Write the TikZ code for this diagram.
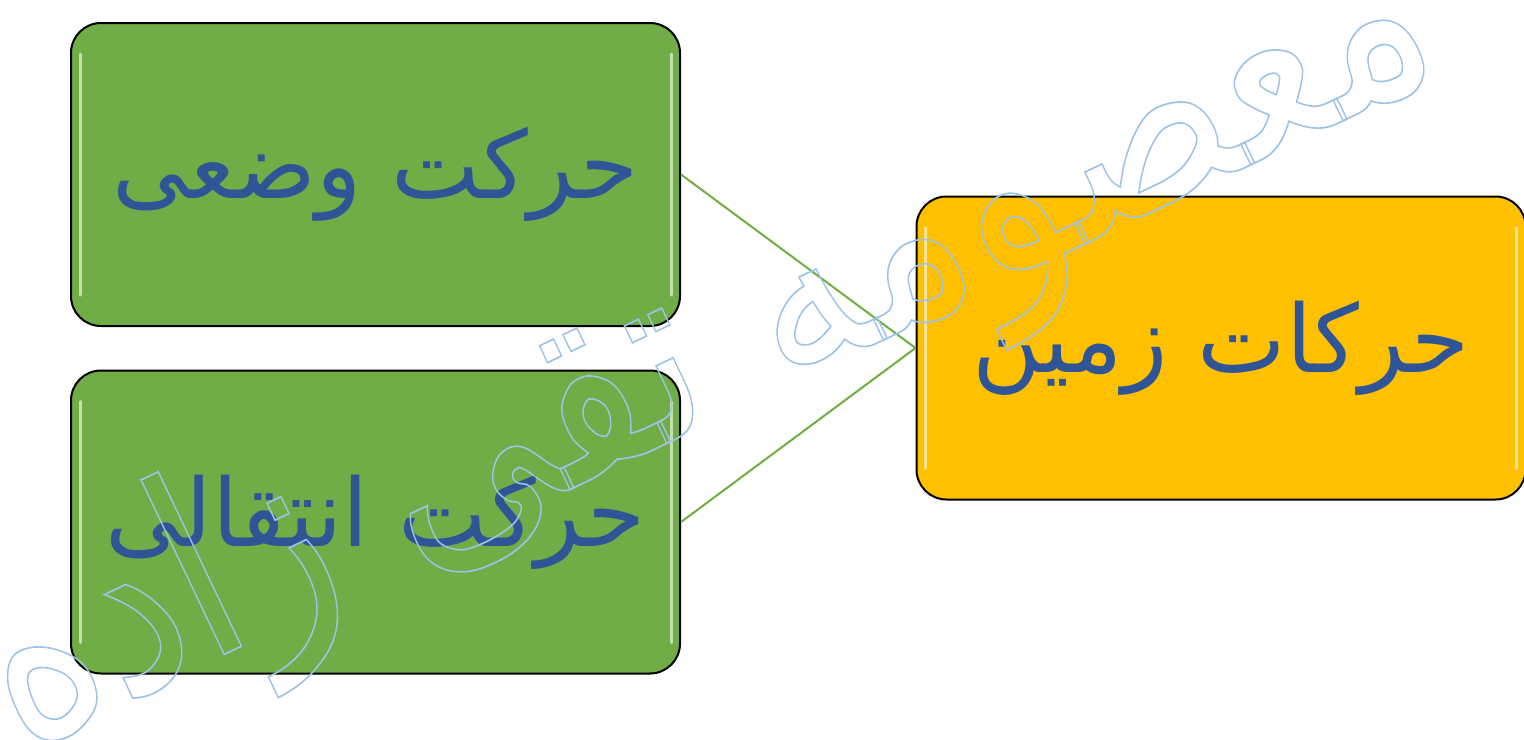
\documentclass[tikz,border=0pt]{standalone}
\usepackage{fontspec}
\newfontfamily\arabicfont[Script=Arabic]{DejaVu Sans}
\TeXXeTstate=1
\definecolor{boxgreen}{HTML}{70AD47}
\definecolor{boxorange}{HTML}{FFC000}
\definecolor{txtblue}{HTML}{2F5597}
\definecolor{wmblue}{HTML}{9DC3E6}
\tikzset{
  box/.style={draw=black, line width=1pt, rounded corners=15pt,
    minimum width=304.5pt, minimum height=151.5pt, inner sep=0pt,
    font=\arabicfont\fontsize{47}{52}\selectfont, text=txtblue},
  link/.style={draw=boxgreen, line width=1pt},
  gloss/.style={draw=white, line width=1.5pt, opacity=0.6, line cap=round},
  wmark/.style={text=wmblue, font=\arabicfont\fontsize{106}{112}\selectfont, inner sep=0pt}
}
\begin{document}
\begin{tikzpicture}[x=0.5pt,y=-0.5pt]
\path[use as bounding box, fill=white] (0,0) rectangle (1524,739);
\node[box, fill=boxgreen] (b1) at (375.5,174.5) {\raisebox{-6pt}{\beginR حرکت وضعی\endR}};
\node[box, fill=boxgreen] (b2) at (375.5,522) {\raisebox{-6pt}{\beginR حرکت انتقالی\endR}};
\node[box, fill=boxorange] (b3) at (1221,348) {\raisebox{-6pt}{\beginR حرکات زمین\endR}};
\foreach \b in {b1,b2,b3}{
  \draw[gloss] ([xshift=5pt,yshift=-16pt]\b.north west) -- ([xshift=5pt,yshift=16pt]\b.south west);
  \draw[gloss] ([xshift=-5pt,yshift=-16pt]\b.north east) -- ([xshift=-5pt,yshift=16pt]\b.south east);
}
\draw[link] (b1.east) -- (b3.west);
\draw[link] (b2.east) -- (b3.west);
\node[wmark, rotate=25.5] (wm) at (706,352) {\scalebox{1}[1.2]{\special{pdf:literal direct 1 Tr 0.7 w}\beginR معصومه تقی زاده\endR\special{pdf:literal direct 0 Tr}}};
\end{tikzpicture}
\end{document}
